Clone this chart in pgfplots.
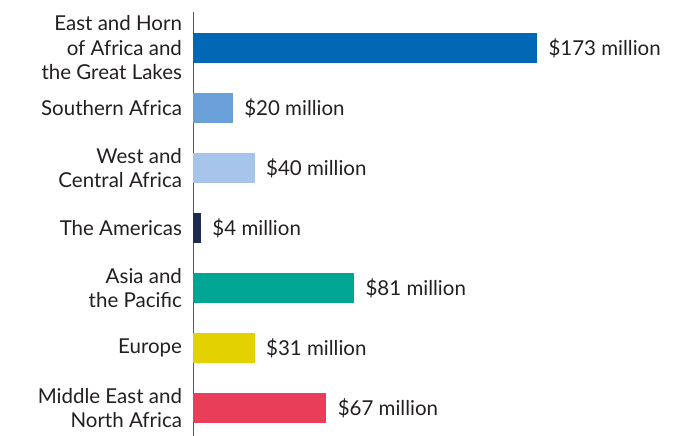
\documentclass[border=0pt]{standalone}
\usepackage{pgfplots}
\pgfplotsset{compat=1.18}
\usepackage{fontspec}
\setmainfont{Lato}
\definecolor{txt}{HTML}{231F20}
\definecolor{c1}{HTML}{0068B4}
\definecolor{c2}{HTML}{6A9FD8}
\definecolor{c3}{HTML}{A7C5EA}
\definecolor{c4}{HTML}{1C2B4F}
\definecolor{c5}{HTML}{00A693}
\definecolor{c6}{HTML}{E4D200}
\definecolor{c7}{HTML}{E83E5A}
\begin{document}
\fontsize{20.5bp}{24.5bp}\selectfont
\begin{tikzpicture}
\useasboundingbox (0,0) rectangle (687bp,436bp);
\begin{axis}[
  at={(193bp,0bp)}, anchor=south west,
  scale only axis, width=344bp, height=424bp,
  xmin=0, xmax=173,
  ymin=-0.6, ymax=6.467, y dir=reverse,
  hide x axis,
  axis y line*=left,
  y axis line style={draw=black!65, line width=0.9pt, -},
  ytick={0,...,6},
  yticklabels={{East and Horn\\of Africa and\\the Great Lakes},{Southern Africa},{West and\\Central Africa},{The Americas},{Asia and\\the Pacific},{Europe},{Middle East and\\North Africa}},
  yticklabel style={align=right, font=\fontsize{20.5bp}{24.5bp}\selectfont, text=txt},
  major tick length=0pt,
  yticklabel style={xshift=-4bp},
  xbar, bar width=30bp, bar shift=0pt,
  clip=false,
  point meta=explicit symbolic,
  nodes near coords,
  every node near coord/.append style={anchor=west, xshift=4.5bp, font=\fontsize{20.5bp}{24.5bp}\selectfont, text=txt},
]
\addplot[fill=c1, draw=none] coordinates {(173,0) [\$173 million]};
\addplot[fill=c2, draw=none] coordinates {(20,1) [\$20 million]};
\addplot[fill=c3, draw=none] coordinates {(31,2) [\$40 million]};
\addplot[fill=c4, draw=none] coordinates {(4,3) [\$4 million]};
\addplot[fill=c5, draw=none] coordinates {(81,4) [\$81 million]};
\addplot[fill=c6, draw=none] coordinates {(31,5) [\$31 million]};
\addplot[fill=c7, draw=none] coordinates {(67,6) [\$67 million]};
\end{axis}
\end{tikzpicture}
\end{document}
